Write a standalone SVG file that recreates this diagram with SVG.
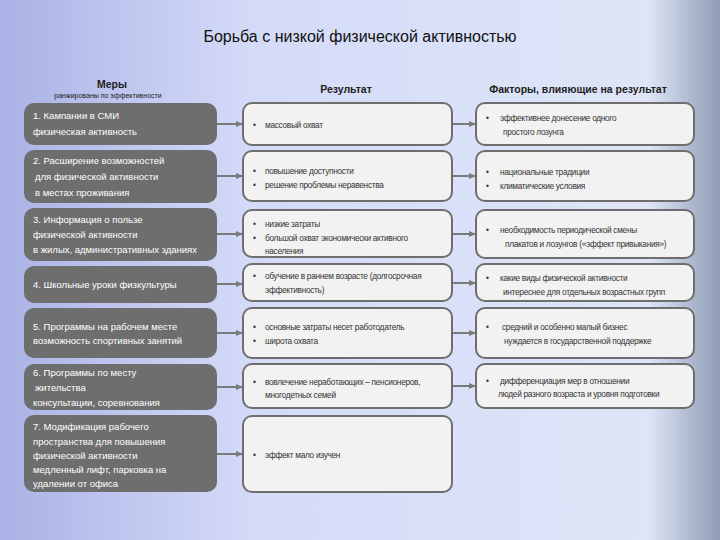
<svg xmlns="http://www.w3.org/2000/svg" width="720" height="540" viewBox="0 0 720 540">
<defs>
<linearGradient id="bg" x1="0" y1="0" x2="1" y2="0">
<stop offset="0" stop-color="#aab2e6"/><stop offset="0.35" stop-color="#d4dbf8"/><stop offset="0.9" stop-color="#dfe5f7"/><stop offset="1" stop-color="#8e9cb4"/>
</linearGradient>
<marker id="ah" markerWidth="8" markerHeight="8" refX="7" refY="4" orient="auto" markerUnits="userSpaceOnUse"><path d="M0,1 L7,4 L0,7 Z" fill="#7a7a7a"/></marker>
<style>
text{font-family:"Liberation Sans",Arial,sans-serif}
.m{fill:#6e6e6e}
.mt{fill:#fff;font-size:9.5px}
.w{fill:#f2f2f2;stroke:#6e6e6e;stroke-width:2}
.t{fill:#333;font-size:8.3px;letter-spacing:-0.3px}
.h{fill:#222;font-size:10.5px;font-weight:bold}
.c{stroke:#7a7a7a;stroke-width:2;fill:none;marker-end:url(#ah)}
</style>
</defs>
<rect width="720" height="540" fill="url(#bg)"/>
<text x="360" y="42" text-anchor="middle" font-size="16" fill="#111">Борьба с низкой физической активностью</text>
<text x="112" y="88" text-anchor="middle" class="h">Меры</text>
<text x="108" y="98" text-anchor="middle" font-size="7" fill="#222">ранжированы по эффективности</text>
<text x="346" y="93" text-anchor="middle" class="h">Результат</text>
<text x="578" y="93" text-anchor="middle" class="h">Факторы, влияющие на результат</text>
<g id="connectors">
<path class="c" d="M217,124H243"/><path class="c" d="M452,124H476"/>
<path class="c" d="M217,176H243"/><path class="c" d="M452,176H476"/>
<path class="c" d="M217,234H243"/><path class="c" d="M452,234H476"/>
<path class="c" d="M217,284H243"/><path class="c" d="M452,283H476"/>
<path class="c" d="M217,333H243"/><path class="c" d="M452,333H476"/>
<path class="c" d="M217,387H243"/><path class="c" d="M452,386H476"/>
<path class="c" d="M217,454H243"/>
</g>
<g id="m1"><rect class="m" x="24" y="103" width="193" height="42" rx="10"/><text class="mt" x="33" y="119">1. Кампании в СМИ</text><text class="mt" x="33" y="135">физическая активность</text></g>
<g id="m2"><rect class="m" x="24" y="150" width="193" height="53" rx="10"/><text class="mt" x="33" y="164">2. Расширение возможностей</text><text class="mt" x="35" y="180">для физической активности</text><text class="mt" x="35" y="196">в местах проживания</text></g>
<g id="m3"><rect class="m" x="24" y="208" width="193" height="53" rx="10"/><text class="mt" x="33" y="223">3. Информация о пользе</text><text class="mt" x="33" y="238">физической активности</text><text class="mt" x="33" y="253">в жилых, административных зданиях</text></g>
<g id="m4"><rect class="m" x="24" y="266" width="193" height="37" rx="10"/><text class="mt" x="33" y="288">4. Школьные уроки физкультуры</text></g>
<g id="m5"><rect class="m" x="24" y="308" width="193" height="50" rx="10"/><text class="mt" x="33" y="330">5. Программы на рабочем месте</text><text class="mt" x="33" y="344">возможность спортивных занятий</text></g>
<g id="m6"><rect class="m" x="24" y="364" width="193" height="46" rx="10"/><text class="mt" x="33" y="376">6. Программы по месту</text><text class="mt" x="35" y="391">жительства</text><text class="mt" x="33" y="406">консультации, соревнования</text></g>
<g id="m7"><rect class="m" x="24" y="415" width="193" height="77" rx="10"/><text class="mt" x="33" y="430">7. Модификация рабочего</text><text class="mt" x="33" y="445">пространства для повышения</text><text class="mt" x="33" y="459">физической активности</text><text class="mt" x="33" y="473">медленный лифт, парковка на</text><text class="mt" x="33" y="487">удалении от офиса</text></g>

<g id="r1"><rect class="w" x="243" y="103" width="209" height="42" rx="9"/><text class="t" x="253" y="128">•</text><text class="t" x="265" y="128">массовый охват</text></g>
<g id="r2"><rect class="w" x="243" y="151" width="209" height="50" rx="9"/><text class="t" x="253" y="174">•</text><text class="t" x="265" y="174">повышение доступности</text><text class="t" x="253" y="188">•</text><text class="t" x="265" y="188">решение проблемы неравенства</text></g>
<g id="r3"><rect class="w" x="243" y="210" width="209" height="47" rx="9"/><text class="t" x="253" y="227">•</text><text class="t" x="265" y="227">низкие затраты</text><text class="t" x="253" y="241">•</text><text class="t" x="265" y="241">большой охват экономически активного</text><text class="t" x="265" y="254">населения</text></g>
<g id="r4"><rect class="w" x="243" y="264" width="209" height="37" rx="9"/><text class="t" x="253" y="279">•</text><text class="t" x="265" y="279">обучение в раннем возрасте (долгосрочная</text><text class="t" x="265" y="293">эффективность)</text></g>
<g id="r5"><rect class="w" x="243" y="308" width="209" height="50" rx="9"/><text class="t" x="253" y="330">•</text><text class="t" x="265" y="330">основные затраты несет работодатель</text><text class="t" x="253" y="344">•</text><text class="t" x="265" y="344">широта охвата</text></g>
<g id="r6"><rect class="w" x="243" y="364" width="209" height="44" rx="9"/><text class="t" x="253" y="385">•</text><text class="t" x="265" y="385">вовлечение неработающих – пенсионеров,</text><text class="t" x="265" y="398">многодетных семей</text></g>
<g id="r7"><rect class="w" x="243" y="416" width="209" height="76" rx="9"/><text class="t" x="253" y="458">•</text><text class="t" x="265" y="458">эффект мало изучен</text></g>

<g id="f1"><rect class="w" x="476" y="103" width="218" height="42" rx="9"/><text class="t" x="486" y="121">•</text><text class="t" x="500" y="121">эффективнее донесение одного</text><text class="t" x="503" y="135">простого лозунга</text></g>
<g id="f2"><rect class="w" x="476" y="151" width="218" height="50" rx="9"/><text class="t" x="486" y="175">•</text><text class="t" x="500" y="175">национальные традиции</text><text class="t" x="486" y="189">•</text><text class="t" x="500" y="189">климатические условия</text></g>
<g id="f3"><rect class="w" x="476" y="210" width="218" height="48" rx="9"/><text class="t" x="486" y="233">•</text><text class="t" x="500" y="233">необходимость периодической смены</text><text class="t" x="505" y="247">плакатов и лозунгов («эффект привыкания»)</text></g>
<g id="f4"><rect class="w" x="476" y="264" width="218" height="37" rx="9"/><text class="t" x="486" y="281">•</text><text class="t" x="500" y="281">какие виды физической активности</text><text class="t" x="503" y="295">интереснее для отдельных возрастных групп</text></g>
<g id="f5"><rect class="w" x="476" y="308" width="218" height="50" rx="9"/><text class="t" x="486" y="330">•</text><text class="t" x="502" y="330">средний и особенно малый бизнес</text><text class="t" x="504" y="344">нуждается в государственной поддержке</text></g>
<g id="f6"><rect class="w" x="476" y="364" width="218" height="44" rx="9"/><text class="t" x="486" y="384">•</text><text class="t" x="500" y="384">дифференциация мер в отношении</text><text class="t" x="498" y="397">людей разного возраста и уровня подготовки</text></g>
</svg>
